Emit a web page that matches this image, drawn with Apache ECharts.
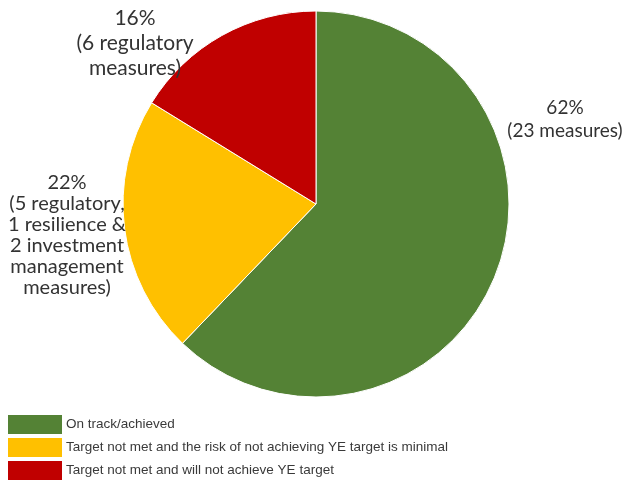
<!DOCTYPE html>
<html>
<head>
<meta charset="utf-8">
<script src="https://cdn.jsdelivr.net/npm/echarts@6/dist/echarts.min.js"></script>
<style>
  html, body { margin: 0; padding: 0; background: #fff; }
  #chart { width: 622px; height: 484px; }
</style>
</head>
<body>
<div id="chart"></div>
<script>
// status categories (legend order) and number of measures in each
var categories = [
  'On track/achieved',
  'Target not met and the risk of not achieving YE target is minimal',
  'Target not met and will not achieve YE target'
]
var measures = [23, 8, 6]
var descriptions = [
  '(23 measures)',
  '(5 regulatory,\n1 resilience &\n2 investment\nmanagement\nmeasures)',
  '(6 regulatory\nmeasures)'
]
var colors = ['#548235', '#ffc000', '#c00000']

// where each slice's label block sits (centre of the block)
var labelSpots = [
  { x: 565, y: 119, size: 19, lineHeight: 23 },
  { x: 67, y: 235, size: 20, lineHeight: 21 },
  { x: 135, y: 43, size: 21, lineHeight: 25 }
]

var myChart = echarts.init(document.getElementById('chart'))

var option = {
  animation: false,
  color: colors,
  legend: {
    orient: 'vertical',
    left: 6,
    bottom: 2,
    padding: 0,
    icon: 'rect',
    itemWidth: 56,
    itemHeight: 21,
    itemGap: 0,
    selectedMode: false,
    data: categories,
    textStyle: {
      color: '#3a3a3a',
      fontSize: 13.5,
      lineHeight: 15,
      fontFamily: 'Liberation Sans',
      padding: [0, 0, 0, -2]
    }
  },
  series: [{
    type: 'pie',
    center: [316, 204],
    radius: [0, 193],
    startAngle: 90,
    clockwise: true,
    percentPrecision: 0,
    avoidLabelOverlap: false,
    itemStyle: {
      borderColor: '#fff',
      borderWidth: 1
    },
    label: {
      show: true,
      position: 'outside',
      color: '#333',
      fontFamily: 'Lato',
      align: 'center'
    },
    labelLine: { show: false },
    labelLayout: function (params) {
      var s = labelSpots[params.dataIndex]
      return { x: s.x, y: s.y, align: 'center', verticalAlign: 'middle' }
    },
    emphasis: { disabled: true },
    data: categories.map(function (name, i) {
      return {
        name: name,
        value: measures[i],
        label: {
          fontSize: labelSpots[i].size,
          lineHeight: labelSpots[i].lineHeight,
          formatter: function (p) {
            return p.percent + '%\n' + descriptions[p.dataIndex]
          }
        }
      }
    })
  }]
}

myChart.setOption(option)
</script>
</body>
</html>
